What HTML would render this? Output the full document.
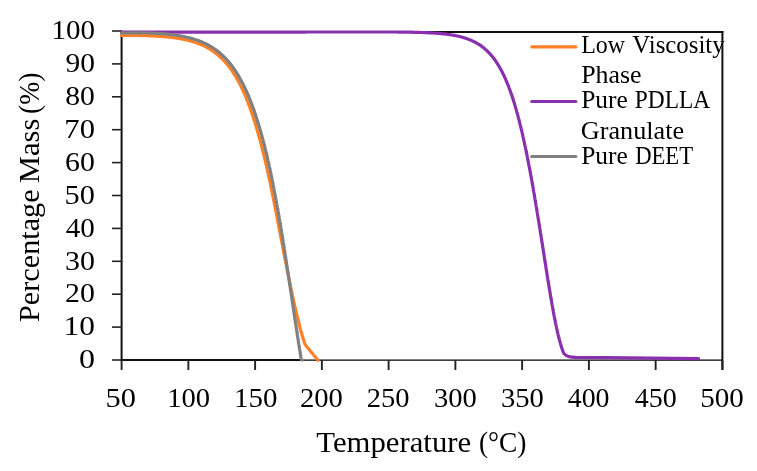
<!DOCTYPE html>
<html><head><meta charset="utf-8"><style>
html,body{margin:0;padding:0;background:#fff;}
svg{display:block;will-change:transform;}
text{font-family:"Liberation Serif",serif;fill:#000;}
</style></head><body>
<svg width="757" height="471" viewBox="0 0 757 471">
<rect width="757" height="471" fill="#fff"/>
<g fill="none" stroke="#111">
<line x1="120.6" y1="32" x2="723.4" y2="32" stroke-width="2"/>
<line x1="121.6" y1="31" x2="121.6" y2="361" stroke-width="2"/>
<line x1="722.4" y1="31" x2="722.4" y2="370" stroke-width="2"/>
<line x1="120.6" y1="360" x2="300.5" y2="360" stroke-width="2.1"/>
<line x1="300.5" y1="360.1" x2="722" y2="360.1" stroke-width="1.4" stroke="#000"/>
</g>
<g stroke="#222" stroke-width="1.6"><line x1="112" y1="360.00" x2="122" y2="360.00"/><line x1="112" y1="327.10" x2="122" y2="327.10"/><line x1="112" y1="294.20" x2="122" y2="294.20"/><line x1="112" y1="261.30" x2="122" y2="261.30"/><line x1="112" y1="228.40" x2="122" y2="228.40"/><line x1="112" y1="195.50" x2="122" y2="195.50"/><line x1="112" y1="162.60" x2="122" y2="162.60"/><line x1="112" y1="129.70" x2="122" y2="129.70"/><line x1="112" y1="96.80" x2="122" y2="96.80"/><line x1="112" y1="63.90" x2="122" y2="63.90"/><line x1="112" y1="31.00" x2="122" y2="31.00"/><line x1="121.60" y1="360" x2="121.60" y2="370" stroke-width="1.9"/><line x1="188.36" y1="360" x2="188.36" y2="370" stroke-width="1.9"/><line x1="255.11" y1="360" x2="255.11" y2="370" stroke-width="1.9"/><line x1="321.87" y1="360" x2="321.87" y2="370" stroke-width="1.9"/><line x1="388.62" y1="360" x2="388.62" y2="370" stroke-width="1.9"/><line x1="455.38" y1="360" x2="455.38" y2="370" stroke-width="1.9"/><line x1="522.13" y1="360" x2="522.13" y2="370" stroke-width="1.9"/><line x1="588.89" y1="360" x2="588.89" y2="370" stroke-width="1.9"/><line x1="655.64" y1="360" x2="655.64" y2="370" stroke-width="1.9"/><line x1="722.40" y1="360" x2="722.40" y2="370" stroke-width="1.9"/></g>
<g><text x="78.98" y="368.27" font-size="28" textLength="16.04" lengthAdjust="spacingAndGlyphs">0</text><text x="63.64" y="335.37" font-size="28" textLength="31.35" lengthAdjust="spacingAndGlyphs">10</text><text x="65.09" y="302.47" font-size="28" textLength="29.85" lengthAdjust="spacingAndGlyphs">20</text><text x="64.97" y="269.57" font-size="28" textLength="29.98" lengthAdjust="spacingAndGlyphs">30</text><text x="65.83" y="236.67" font-size="28" textLength="29.08" lengthAdjust="spacingAndGlyphs">40</text><text x="64.64" y="203.77" font-size="28" textLength="30.32" lengthAdjust="spacingAndGlyphs">50</text><text x="65.12" y="170.87" font-size="28" textLength="29.82" lengthAdjust="spacingAndGlyphs">60</text><text x="64.38" y="137.97" font-size="28" textLength="30.58" lengthAdjust="spacingAndGlyphs">70</text><text x="65.27" y="105.07" font-size="28" textLength="29.66" lengthAdjust="spacingAndGlyphs">80</text><text x="65.45" y="72.17" font-size="28" textLength="29.47" lengthAdjust="spacingAndGlyphs">90</text><text x="51.45" y="39.27" font-size="28" textLength="43.45" lengthAdjust="spacingAndGlyphs">100</text><text x="105.63" y="407.20" font-size="28" textLength="30.43" lengthAdjust="spacingAndGlyphs">50</text><text x="167.24" y="407.20" font-size="28" textLength="42.85" lengthAdjust="spacingAndGlyphs">100</text><text x="234.06" y="407.20" font-size="28" textLength="43.34" lengthAdjust="spacingAndGlyphs">150</text><text x="299.94" y="407.20" font-size="28" textLength="42.95" lengthAdjust="spacingAndGlyphs">200</text><text x="366.65" y="407.20" font-size="28" textLength="42.74" lengthAdjust="spacingAndGlyphs">250</text><text x="433.93" y="407.20" font-size="28" textLength="42.86" lengthAdjust="spacingAndGlyphs">300</text><text x="500.93" y="407.20" font-size="28" textLength="42.86" lengthAdjust="spacingAndGlyphs">350</text><text x="567.76" y="407.20" font-size="28" textLength="41.81" lengthAdjust="spacingAndGlyphs">400</text><text x="634.75" y="407.20" font-size="28" textLength="42.01" lengthAdjust="spacingAndGlyphs">450</text><text x="700.21" y="407.20" font-size="28" textLength="43.60" lengthAdjust="spacingAndGlyphs">500</text></g>
<g fill="none" stroke-width="3.2" stroke-linejoin="round" stroke-linecap="round">
<polyline points="121.6,35.4 122.1,35.4 122.6,35.4 123.1,35.4 123.6,35.4 124.2,35.4 124.7,35.4 125.2,35.4 125.7,35.4 126.2,35.4 126.7,35.4 127.2,35.4 127.7,35.4 128.2,35.4 128.8,35.4 129.3,35.4 129.8,35.4 130.3,35.4 130.8,35.4 131.3,35.4 131.8,35.4 132.3,35.4 132.8,35.4 133.4,35.4 133.9,35.4 134.4,35.4 134.9,35.4 135.4,35.4 135.9,35.5 136.4,35.5 136.9,35.5 137.5,35.5 138.0,35.5 138.5,35.5 139.0,35.5 139.5,35.5 140.0,35.5 140.5,35.5 141.0,35.5 141.5,35.6 142.1,35.6 142.6,35.6 143.1,35.6 143.6,35.6 144.1,35.6 144.6,35.6 145.1,35.6 145.6,35.7 146.1,35.7 146.7,35.7 147.2,35.7 147.7,35.7 148.2,35.7 148.7,35.8 149.2,35.8 149.7,35.8 150.2,35.8 150.7,35.8 151.3,35.9 151.8,35.9 152.3,35.9 152.8,35.9 153.3,36.0 153.8,36.0 154.3,36.0 154.8,36.0 155.3,36.1 155.9,36.1 156.4,36.1 156.9,36.2 157.4,36.2 157.9,36.2 158.4,36.2 158.9,36.3 159.4,36.3 159.9,36.4 160.5,36.4 161.0,36.4 161.5,36.5 162.0,36.5 162.5,36.5 163.0,36.6 163.5,36.6 164.0,36.7 164.5,36.7 165.0,36.8 165.6,36.8 166.1,36.8 166.6,36.9 167.1,36.9 167.6,37.0 168.1,37.0 168.6,37.1 169.1,37.1 169.6,37.2 170.1,37.3 170.6,37.3 171.1,37.4 171.7,37.4 172.2,37.5 172.7,37.6 173.2,37.6 173.7,37.7 174.2,37.8 174.7,37.8 175.2,37.9 175.7,38.0 176.2,38.0 176.7,38.1 177.2,38.2 177.7,38.3 178.2,38.4 178.8,38.4 179.3,38.5 179.8,38.6 180.3,38.7 180.8,38.8 181.3,38.9 181.8,39.0 182.3,39.1 182.8,39.2 183.3,39.3 183.8,39.4 184.3,39.5 184.8,39.6 185.3,39.7 185.8,39.8 186.3,39.9 186.8,40.0 187.3,40.1 187.8,40.3 188.3,40.4 188.8,40.5 189.3,40.6 189.8,40.8 190.3,40.9 190.8,41.0 191.2,41.2 191.7,41.3 192.2,41.5 192.7,41.6 193.2,41.8 193.7,41.9 194.2,42.1 194.7,42.2 195.2,42.4 195.7,42.5 196.1,42.7 196.6,42.9 197.1,43.1 197.6,43.2 198.1,43.4 198.5,43.6 199.0,43.8 199.5,44.0 200.0,44.2 200.4,44.3 200.9,44.5 201.4,44.7 201.9,45.0 202.3,45.2 202.8,45.4 203.3,45.6 203.7,45.8 204.2,46.0 204.6,46.3 205.1,46.5 205.6,46.7 206.0,46.9 206.5,47.2 206.9,47.4 207.4,47.7 207.8,47.9 208.3,48.2 208.7,48.4 209.1,48.7 209.6,49.0 210.0,49.2 210.5,49.5 210.9,49.8 211.3,50.0 211.8,50.3 212.2,50.6 212.6,50.9 213.0,51.2 213.4,51.5 213.9,51.8 214.3,52.1 214.7,52.4 215.1,52.7 215.5,53.0 215.9,53.3 216.3,53.6 216.7,53.9 217.1,54.3 217.5,54.6 217.9,54.9 218.3,55.3 218.7,55.6 219.1,55.9 219.4,56.3 219.8,56.6 220.2,57.0 220.6,57.3 220.9,57.7 221.3,58.0 221.7,58.4 222.0,58.7 222.4,59.1 222.8,59.5 223.1,59.8 223.5,60.2 223.8,60.6 224.2,61.0 224.5,61.3 224.9,61.7 225.2,62.1 225.5,62.5 225.9,62.9 226.2,63.2 226.5,63.6 226.9,64.0 227.2,64.4 227.5,64.8 227.8,65.2 228.2,65.6 228.5,66.0 228.8,66.4 229.1,66.8 229.4,67.2 229.7,67.7 230.0,68.1 230.3,68.5 230.6,68.9 230.9,69.3 231.2,69.7 231.5,70.1 231.8,70.6 232.1,71.0 232.4,71.4 232.7,71.8 233.0,72.3 233.2,72.7 233.5,73.1 233.8,73.6 234.1,74.0 234.3,74.4 234.6,74.8 234.9,75.3 235.1,75.7 235.4,76.2 235.7,76.6 235.9,77.0 236.2,77.5 236.5,77.9 236.7,78.4 237.0,78.8 237.2,79.3 237.5,79.7 237.7,80.1 238.0,80.6 238.2,81.0 238.5,81.5 238.7,81.9 238.9,82.4 239.2,82.9 239.4,83.3 239.7,83.8 239.9,84.2 240.1,84.7 240.4,85.1 240.6,85.6 240.8,86.0 241.0,86.5 241.3,87.0 241.5,87.4 241.7,87.9 241.9,88.3 242.1,88.8 242.4,89.3 242.6,89.7 242.8,90.2 243.0,90.7 243.2,91.1 243.4,91.6 243.6,92.1 243.9,92.5 244.1,93.0 244.3,93.5 244.5,93.9 244.7,94.4 244.9,94.9 245.1,95.3 245.3,95.8 245.5,96.3 245.7,96.8 245.9,97.2 246.1,97.7 246.3,98.2 246.5,98.6 246.7,99.1 246.9,99.6 247.0,100.1 247.2,100.5 247.4,101.0 247.6,101.5 247.8,102.0 248.0,102.5 248.2,102.9 248.3,103.4 248.5,103.9 248.7,104.4 248.9,104.8 249.1,105.3 249.3,105.8 249.4,106.3 249.6,106.8 249.8,107.2 250.0,107.7 250.1,108.2 250.3,108.7 250.5,109.2 250.7,109.6 250.8,110.1 251.0,110.6 251.2,111.1 251.3,111.6 251.5,112.1 251.7,112.5 251.8,113.0 252.0,113.5 252.2,114.0 252.3,114.5 252.5,115.0 252.7,115.5 252.8,115.9 253.0,116.4 253.1,116.9 253.3,117.4 253.5,117.9 253.6,118.4 253.8,118.9 253.9,119.3 254.1,119.8 254.2,120.3 254.4,120.8 254.6,121.3 254.7,121.8 254.9,122.3 255.0,122.8 255.2,123.2 255.3,123.7 255.5,124.2 255.6,124.7 255.8,125.2 255.9,125.7 256.1,126.2 256.2,126.7 256.4,127.2 256.5,127.7 256.6,128.1 256.8,128.6 256.9,129.1 257.1,129.6 257.2,130.1 257.4,130.6 257.5,131.1 257.7,131.6 257.8,132.1 257.9,132.6 258.1,133.1 258.2,133.6 258.4,134.0 258.5,134.5 258.6,135.0 258.8,135.5 258.9,136.0 259.0,136.5 259.2,137.0 259.3,137.5 259.4,138.0 259.6,138.5 259.7,139.0 259.9,139.5 260.0,140.0 260.1,140.5 260.2,141.0 260.4,141.4 260.5,141.9 260.6,142.4 260.8,142.9 260.9,143.4 261.0,143.9 261.2,144.4 261.3,144.9 261.4,145.4 261.6,145.9 261.7,146.4 261.8,146.9 261.9,147.4 262.1,147.9 262.2,148.4 262.3,148.9 262.4,149.4 262.6,149.9 262.7,150.4 262.8,150.9 262.9,151.4 263.1,151.9 263.2,152.3 263.3,152.8 263.4,153.3 263.5,153.8 263.7,154.3 263.8,154.8 263.9,155.3 264.0,155.8 264.2,156.3 264.3,156.8 264.4,157.3 264.5,157.8 264.6,158.3 264.8,158.8 264.9,159.3 265.0,159.8 265.1,160.3 265.2,160.8 265.3,161.3 265.5,161.8 265.6,162.3 265.7,162.8 265.8,163.3 265.9,163.8 266.0,164.3 266.2,164.8 266.3,165.3 266.4,165.8 266.5,166.3 266.6,166.8 266.7,167.3 266.8,167.8 266.9,168.3 267.1,168.8 267.2,169.3 267.3,169.8 267.4,170.3 267.5,170.8 267.6,171.3 267.7,171.8 267.8,172.3 268.0,172.8 268.1,173.3 268.2,173.8 268.3,174.3 268.4,174.8 268.5,175.3 268.6,175.8 268.7,176.3 268.8,176.8 268.9,177.3 269.0,177.8 269.2,178.3 269.3,178.8 269.4,179.3 269.5,179.8 269.6,180.3 269.7,180.8 269.8,181.3 269.9,181.8 270.0,182.3 270.1,182.8 270.2,183.3 270.3,183.8 270.4,184.3 270.5,184.8 270.6,185.3 270.7,185.8 270.9,186.3 271.0,186.8 271.1,187.3 271.2,187.8 271.3,188.3 271.4,188.8 271.5,189.3 271.6,189.8 271.7,190.3 271.8,190.8 271.9,191.3 272.0,191.8 272.1,192.3 272.2,192.8 272.3,193.3 272.4,193.8 272.5,194.3 272.6,194.8 272.7,195.3 272.8,195.8 272.9,196.3 273.0,196.8 273.1,197.3 273.2,197.8 273.3,198.3 273.4,198.8 273.5,199.3 273.6,199.8 273.7,200.3 273.8,200.8 273.9,201.3 274.0,201.8 274.1,202.3 274.2,202.8 274.3,203.3 274.4,203.8 274.5,204.3 274.6,204.8 274.7,205.3 274.8,205.8 274.9,206.3 275.0,206.8 275.1,207.3 275.2,207.8 275.3,208.4 275.4,208.9 275.5,209.4 275.6,209.9 275.7,210.4 275.8,210.9 275.9,211.4 276.0,211.9 276.1,212.4 276.2,212.9 276.3,213.4 276.4,213.9 276.5,214.4 276.6,214.9 276.7,215.4 276.8,215.9 276.9,216.4 277.0,216.9 277.1,217.4 277.2,217.9 277.3,218.4 277.4,218.9 277.5,219.4 277.6,219.9 277.7,220.4 277.7,220.9 277.8,221.4 277.9,221.9 278.0,222.4 278.1,222.9 278.2,223.4 278.3,223.9 278.4,224.4 278.5,224.9 278.6,225.4 278.7,225.9 278.8,226.4 278.9,226.9 279.0,227.4 279.1,227.9 279.2,228.4 279.3,228.9 279.4,229.5 279.5,230.0 279.6,230.5 279.7,231.0 279.8,231.5 279.9,232.0 280.0,232.5 280.1,233.0 280.2,233.5 280.2,234.0 280.3,234.5 280.4,235.0 280.5,235.5 280.6,236.0 280.7,236.5 280.8,237.0 280.9,237.5 281.0,238.0 281.1,238.5 281.2,239.0 281.3,239.5 281.4,240.0 281.5,240.5 281.6,241.0 281.7,241.5 281.8,242.0 281.9,242.5 282.0,243.0 282.1,243.5 282.2,244.0 282.3,244.5 282.4,245.0 282.5,245.5 282.6,246.0 282.7,246.5 282.7,247.0 282.8,247.5 282.9,248.0 283.0,248.5 283.1,249.1 283.2,249.6 283.3,250.1 283.4,250.6 283.5,251.1 283.6,251.6 283.7,252.1 283.8,252.6 283.9,253.1 284.0,253.6 284.1,254.1 284.2,254.6 284.3,255.1 284.4,255.6 284.5,256.1 284.6,256.6 284.7,257.1 284.8,257.6 284.9,258.1 285.0,258.6 285.1,259.1 285.2,259.6 285.3,260.1 285.4,260.6 285.5,261.1 285.6,261.6 285.7,262.1 285.8,262.6 285.9,263.1 286.0,263.6 286.1,264.1 286.2,264.6 286.3,265.1 286.4,265.6 286.5,266.1 286.6,266.6 286.7,267.1 286.8,267.6 286.9,268.1 286.9,268.6 287.0,269.1 287.1,269.6 287.2,270.1 287.3,270.6 287.4,271.1 287.5,271.6 287.6,272.1 287.8,272.7 287.9,273.2 288.0,273.7 288.1,274.2 288.2,274.7 288.3,275.2 288.4,275.7 288.5,276.2 288.6,276.7 288.7,277.2 288.8,277.7 288.9,278.2 289.0,278.7 289.1,279.2 289.2,279.7 289.3,280.2 289.4,280.7 289.5,281.2 289.6,281.7 289.7,282.2 289.8,282.7 289.9,283.2 290.0,283.7 290.1,284.2 290.2,284.7 290.3,285.2 290.4,285.7 290.5,286.2 290.6,286.7 290.7,287.2 290.8,287.7 290.9,288.2 291.0,288.7 291.1,289.2 291.2,289.7 291.3,290.2 291.5,290.7 291.6,291.2 291.7,291.7 291.8,292.2 291.9,292.7 292.0,293.2 292.1,293.7 292.2,294.2 292.3,294.7 292.4,295.2 292.5,295.7 292.6,296.2 292.7,296.7 292.8,297.2 292.9,297.7 293.1,298.2 293.2,298.7 293.3,299.2 293.4,299.7 293.5,300.2 293.6,300.7 293.7,301.2 293.8,301.7 293.9,302.2 294.0,302.7 294.1,303.2 294.3,303.7 294.4,304.2 294.5,304.7 294.6,305.2 294.7,305.7 294.8,306.2 294.9,306.7 295.0,307.2 295.2,307.7 295.3,308.2 295.4,308.7 295.5,309.2 295.6,309.7 295.7,310.2 295.8,310.7 296.0,311.2 296.1,311.7 296.2,312.2 296.3,312.7 296.4,313.2 296.5,313.7 296.7,314.2 296.8,314.7 296.9,315.2 297.0,315.7 297.1,316.2 297.2,316.7 297.4,317.2 297.5,317.7 297.6,318.2 297.7,318.6 297.8,319.1 298.0,319.6 298.1,320.1 298.2,320.6 298.3,321.1 298.5,321.6 298.6,322.1 298.7,322.6 298.8,323.1 299.0,323.6 299.1,324.1 299.2,324.6 299.3,325.1 299.5,325.6 299.6,326.1 299.7,326.6 299.9,327.1 300.0,327.6 300.1,328.1 300.2,328.6 300.4,329.1 300.5,329.6 300.6,330.0 300.8,330.5 300.9,331.0 301.1,331.5 301.2,332.0 301.3,332.5 301.5,333.0 301.6,333.5 301.7,334.0 301.9,334.5 302.0,335.0 302.2,335.5 302.3,336.0 302.5,336.4 302.6,336.9 302.7,337.4 302.9,337.9 303.0,338.4 303.2,338.9 303.3,339.4 303.5,339.9 303.7,340.4 303.8,340.8 304.0,341.3 304.1,341.8 304.9,344.0 306.4,346.2 318.0,360.2" stroke="#FF8027"/>
<polyline points="121.6,32.0 122.5,32.0 123.3,32.0 124.2,32.0 125.1,32.0 126.0,32.0 126.8,32.0 127.7,32.0 128.6,32.0 129.4,32.0 130.3,32.0 131.2,32.0 132.1,32.0 132.9,32.0 133.8,32.0 134.7,32.0 135.6,32.0 136.4,32.0 137.3,32.0 138.2,32.0 139.0,32.0 139.9,32.0 140.8,32.0 141.7,32.0 142.5,32.1 143.4,32.1 144.3,32.1 145.1,32.1 146.0,32.1 146.9,32.1 147.8,32.1 148.6,32.1 149.5,32.1 150.4,32.1 151.2,32.1 152.1,32.1 153.0,32.1 153.9,32.1 154.7,32.1 155.6,32.1 156.5,32.1 157.4,32.1 158.2,32.1 159.1,32.1 160.0,32.1 160.8,32.1 161.7,32.1 162.6,32.1 163.5,32.1 164.3,32.1 165.2,32.1 166.1,32.1 166.9,32.1 167.8,32.1 168.7,32.1 169.6,32.1 170.4,32.1 171.3,32.1 172.2,32.1 173.0,32.1 173.9,32.1 174.8,32.1 175.7,32.1 176.5,32.1 177.4,32.1 178.3,32.1 179.2,32.1 180.0,32.1 180.9,32.1 181.8,32.1 182.6,32.1 183.5,32.1 184.4,32.1 185.3,32.1 186.1,32.1 187.0,32.1 187.9,32.2 188.7,32.2 189.6,32.2 190.5,32.2 191.4,32.2 192.2,32.2 193.1,32.2 194.0,32.2 194.8,32.2 195.7,32.2 196.6,32.2 197.5,32.2 198.3,32.2 199.2,32.2 200.1,32.2 201.0,32.2 201.8,32.2 202.7,32.2 203.6,32.2 204.4,32.2 205.3,32.2 206.2,32.2 207.1,32.2 207.9,32.2 208.8,32.2 209.7,32.2 210.5,32.2 211.4,32.2 212.3,32.2 213.2,32.2 214.0,32.2 214.9,32.2 215.8,32.2 216.7,32.2 217.5,32.2 218.4,32.2 219.3,32.2 220.1,32.2 221.0,32.2 221.9,32.2 222.8,32.2 223.6,32.2 224.5,32.2 225.4,32.2 226.2,32.2 227.1,32.2 228.0,32.2 228.9,32.2 229.7,32.2 230.6,32.2 231.5,32.2 232.3,32.2 233.2,32.2 234.1,32.2 235.0,32.2 235.8,32.2 236.7,32.2 237.6,32.2 238.5,32.2 239.3,32.2 240.2,32.2 241.1,32.2 241.9,32.2 242.8,32.2 243.7,32.1 244.6,32.1 245.4,32.1 246.3,32.1 247.2,32.1 248.0,32.1 248.9,32.1 249.8,32.1 250.7,32.1 251.5,32.1 252.4,32.1 253.3,32.1 254.1,32.1 255.0,32.1 255.9,32.1 256.8,32.1 257.6,32.1 258.5,32.1 259.4,32.1 260.3,32.1 261.1,32.1 262.0,32.1 262.9,32.1 263.7,32.1 264.6,32.1 265.5,32.1 266.4,32.1 267.2,32.1 268.1,32.1 269.0,32.1 269.8,32.1 270.7,32.1 271.6,32.1 272.5,32.1 273.3,32.1 274.2,32.1 275.1,32.1 275.9,32.1 276.8,32.1 277.7,32.1 278.6,32.1 279.4,32.1 280.3,32.1 281.2,32.1 282.1,32.1 282.9,32.1 283.8,32.1 284.7,32.1 285.5,32.1 286.4,32.1 287.3,32.1 288.2,32.1 289.0,32.1 289.9,32.1 290.8,32.1 291.6,32.1 292.5,32.1 293.4,32.1 294.3,32.1 295.1,32.1 296.0,32.1 296.9,32.1 297.7,32.1 298.6,32.1 299.5,32.1 300.4,32.1 301.2,32.1 302.1,32.1 303.0,32.1 303.9,32.1 304.7,32.1 305.6,32.1 306.5,32.0 307.3,32.0 308.2,32.0 309.1,32.0 310.0,32.0 310.8,32.0 311.7,32.0 312.6,32.0 313.4,32.0 314.3,32.0 315.2,32.0 316.1,32.0 316.9,32.0 317.8,32.0 318.7,32.0 319.5,32.0 320.4,32.0 321.3,32.0 322.2,32.0 323.0,32.0 323.9,32.0 324.8,32.0 325.7,32.0 326.5,32.0 327.4,32.0 328.3,32.0 329.1,32.0 330.0,32.0 330.9,32.0 331.8,32.0 332.6,32.0 333.5,32.0 334.4,32.0 335.2,32.0 336.1,32.0 337.0,32.0 337.9,32.0 338.7,32.0 339.6,32.0 340.5,32.0 341.3,32.0 342.2,32.0 343.1,32.0 344.0,32.0 344.8,32.0 345.7,32.0 346.6,32.0 347.5,32.0 348.3,32.0 349.2,32.0 350.1,32.0 350.9,32.0 351.8,32.0 352.7,32.0 353.6,32.0 354.4,32.0 355.3,32.0 356.2,32.0 357.0,32.0 357.9,32.0 358.8,32.0 359.7,32.0 360.5,32.0 361.4,32.0 362.3,32.0 363.2,32.0 364.0,32.0 364.9,32.0 365.8,32.0 366.6,32.0 367.5,32.0 368.4,32.0 369.3,32.0 370.1,32.0 371.0,32.0 371.9,32.0 372.7,32.0 373.6,32.0 374.5,32.0 375.4,32.0 376.2,32.0 377.1,32.0 378.0,32.0 378.8,32.0 379.7,32.0 380.6,32.0 381.5,32.0 382.3,32.0 383.2,32.0 384.1,32.0 385.0,32.0 385.8,32.0 386.7,32.0 387.6,32.0 388.4,32.0 389.3,32.0 390.2,32.0 391.1,32.0 391.9,32.0 392.8,32.0 393.7,32.0 394.5,32.0 395.4,32.0 396.3,32.0 397.2,32.0 398.0,32.1 398.9,32.1 399.8,32.1 400.6,32.1 401.5,32.1 402.4,32.1 403.3,32.1 404.1,32.1 405.0,32.1 405.9,32.1 406.8,32.2 407.6,32.2 408.5,32.2 409.4,32.2 410.2,32.2 411.1,32.2 412.0,32.2 412.9,32.3 413.7,32.3 414.6,32.3 415.5,32.3 416.3,32.3 417.2,32.4 418.1,32.4 419.0,32.4 419.8,32.4 420.7,32.5 421.6,32.5 422.4,32.5 423.3,32.6 424.2,32.6 425.1,32.6 425.9,32.7 426.8,32.7 427.7,32.7 428.5,32.8 429.4,32.8 430.3,32.9 431.2,32.9 432.0,33.0 432.9,33.0 433.8,33.1 434.6,33.1 435.5,33.2 436.4,33.2 437.2,33.3 438.1,33.4 439.0,33.4 439.9,33.5 440.7,33.6 441.6,33.7 442.5,33.8 443.3,33.9 444.2,33.9 445.1,34.0 445.9,34.1 446.8,34.2 447.7,34.4 448.5,34.5 449.4,34.6 450.3,34.7 451.1,34.9 452.0,35.0 452.8,35.1 453.7,35.3 454.6,35.4 455.4,35.6 456.3,35.8 457.1,36.0 458.0,36.1 458.8,36.3 459.7,36.5 460.5,36.7 461.4,37.0 462.2,37.2 463.0,37.4 463.9,37.7 464.7,37.9 465.6,38.2 466.4,38.5 467.2,38.8 468.0,39.1 468.8,39.4 469.7,39.7 470.5,40.0 471.3,40.4 472.1,40.7 472.9,41.1 473.6,41.5 474.4,41.9 475.2,42.3 476.0,42.7 476.7,43.1 477.5,43.5 478.2,44.0 479.0,44.5 479.7,44.9 480.4,45.4 481.1,45.9 481.8,46.4 482.5,47.0 483.2,47.5 483.9,48.0 484.6,48.6 485.2,49.2 485.9,49.8 486.5,50.3 487.2,50.9 487.8,51.6 488.4,52.2 489.0,52.8 489.6,53.4 490.2,54.1 490.8,54.7 491.3,55.4 491.9,56.1 492.5,56.7 493.0,57.4 493.5,58.1 494.1,58.8 494.6,59.5 495.1,60.2 495.6,60.9 496.1,61.6 496.6,62.4 497.0,63.1 497.5,63.8 498.0,64.6 498.4,65.3 498.9,66.1 499.3,66.8 499.8,67.6 500.2,68.3 500.6,69.1 501.0,69.9 501.5,70.6 501.9,71.4 502.3,72.2 502.6,73.0 503.0,73.7 503.4,74.5 503.8,75.3 504.2,76.1 504.5,76.9 504.9,77.7 505.3,78.5 505.6,79.3 506.0,80.1 506.3,80.9 506.6,81.7 507.0,82.5 507.3,83.3 507.6,84.1 508.0,84.9 508.3,85.7 508.6,86.5 508.9,87.3 509.2,88.2 509.5,89.0 509.8,89.8 510.1,90.6 510.4,91.4 510.7,92.2 511.0,93.1 511.3,93.9 511.6,94.7 511.9,95.5 512.1,96.4 512.4,97.2 512.7,98.0 512.9,98.9 513.2,99.7 513.5,100.5 513.7,101.3 514.0,102.2 514.3,103.0 514.5,103.8 514.8,104.7 515.0,105.5 515.3,106.4 515.5,107.2 515.7,108.0 516.0,108.9 516.2,109.7 516.5,110.5 516.7,111.4 516.9,112.2 517.2,113.1 517.4,113.9 517.6,114.7 517.9,115.6 518.1,116.4 518.3,117.3 518.5,118.1 518.7,119.0 519.0,119.8 519.2,120.6 519.4,121.5 519.6,122.3 519.8,123.2 520.0,124.0 520.2,124.9 520.4,125.7 520.7,126.6 520.9,127.4 521.1,128.3 521.3,129.1 521.5,130.0 521.7,130.8 521.9,131.7 522.1,132.5 522.3,133.4 522.5,134.2 522.7,135.1 522.8,135.9 523.0,136.8 523.2,137.6 523.4,138.5 523.6,139.3 523.8,140.2 524.0,141.0 524.2,141.9 524.4,142.7 524.5,143.6 524.7,144.4 524.9,145.3 525.1,146.1 525.3,147.0 525.4,147.8 525.6,148.7 525.8,149.5 526.0,150.4 526.2,151.3 526.3,152.1 526.5,153.0 526.7,153.8 526.9,154.7 527.0,155.5 527.2,156.4 527.4,157.2 527.5,158.1 527.7,158.9 527.9,159.8 528.0,160.7 528.2,161.5 528.4,162.4 528.5,163.2 528.7,164.1 528.9,164.9 529.0,165.8 529.2,166.6 529.4,167.5 529.5,168.4 529.7,169.2 529.9,170.1 530.0,170.9 530.2,171.8 530.3,172.6 530.5,173.5 530.6,174.4 530.8,175.2 531.0,176.1 531.1,176.9 531.3,177.8 531.4,178.7 531.6,179.5 531.7,180.4 531.9,181.2 532.0,182.1 532.2,182.9 532.4,183.8 532.5,184.7 532.7,185.5 532.8,186.4 533.0,187.2 533.1,188.1 533.3,189.0 533.4,189.8 533.6,190.7 533.7,191.5 533.9,192.4 534.0,193.3 534.2,194.1 534.3,195.0 534.5,195.8 534.6,196.7 534.7,197.5 534.9,198.4 535.0,199.3 535.2,200.1 535.3,201.0 535.5,201.8 535.6,202.7 535.8,203.6 535.9,204.4 536.0,205.3 536.2,206.1 536.3,207.0 536.5,207.9 536.6,208.7 536.8,209.6 536.9,210.5 537.0,211.3 537.2,212.2 537.3,213.0 537.5,213.9 537.6,214.8 537.8,215.6 537.9,216.5 538.0,217.3 538.2,218.2 538.3,219.1 538.4,219.9 538.6,220.8 538.7,221.6 538.9,222.5 539.0,223.4 539.1,224.2 539.3,225.1 539.4,225.9 539.6,226.8 539.7,227.7 539.8,228.5 540.0,229.4 540.1,230.3 540.2,231.1 540.4,232.0 540.5,232.8 540.7,233.7 540.8,234.6 540.9,235.4 541.1,236.3 541.2,237.1 541.3,238.0 541.5,238.9 541.6,239.7 541.7,240.6 541.9,241.4 542.0,242.3 542.1,243.2 542.3,244.0 542.4,244.9 542.6,245.8 542.7,246.6 542.8,247.5 543.0,248.3 543.1,249.2 543.2,250.1 543.4,250.9 543.5,251.8 543.6,252.6 543.8,253.5 543.9,254.4 544.0,255.2 544.2,256.1 544.3,257.0 544.4,257.8 544.6,258.7 544.7,259.5 544.8,260.4 545.0,261.3 545.1,262.1 545.3,263.0 545.4,263.8 545.5,264.7 545.7,265.6 545.8,266.4 545.9,267.3 546.1,268.2 546.2,269.0 546.3,269.9 546.5,270.7 546.6,271.6 546.8,272.5 546.9,273.3 547.0,274.2 547.2,275.0 547.3,275.9 547.4,276.8 547.6,277.6 547.7,278.5 547.8,279.3 548.0,280.2 548.1,281.1 548.3,281.9 548.4,282.8 548.5,283.7 548.7,284.5 548.8,285.4 549.0,286.2 549.1,287.1 549.2,288.0 549.4,288.8 549.5,289.7 549.7,290.5 549.8,291.4 550.0,292.3 550.1,293.1 550.2,294.0 550.4,294.8 550.5,295.7 550.7,296.6 550.8,297.4 551.0,298.3 551.1,299.1 551.3,300.0 551.4,300.9 551.6,301.7 551.7,302.6 551.9,303.4 552.0,304.3 552.2,305.1 552.3,306.0 552.5,306.9 552.6,307.7 552.8,308.6 552.9,309.4 553.1,310.3 553.3,311.2 553.4,312.0 553.6,312.9 553.7,313.7 553.9,314.6 554.1,315.4 554.2,316.3 554.4,317.1 554.6,318.0 554.7,318.9 554.9,319.7 555.1,320.6 555.2,321.4 555.4,322.3 555.6,323.1 555.8,324.0 555.9,324.8 556.1,325.7 556.3,326.6 556.5,327.4 556.7,328.3 556.9,329.1 557.0,330.0 557.2,330.8 557.4,331.7 557.6,332.5 557.8,333.4 558.0,334.2 558.2,335.1 558.4,335.9 558.6,336.8 558.8,337.6 559.1,338.4 559.3,339.3 559.5,340.1 559.7,341.0 560.0,341.8 560.2,342.7 560.4,343.5 560.7,344.3 560.9,345.2 561.2,346.0 561.4,346.8 561.7,347.7 562.0,348.5 562.2,349.3 562.5,350.2 562.8,351.0 563.1,351.8 563.4,352.6 563.9,353.4 564.6,354.1 565.3,354.7 566.1,355.3 567.0,355.8 568.0,356.2 569.1,356.6 570.3,356.8 571.6,357.1 573.0,357.2 574.4,357.3 576.0,357.4 605.0,357.7 698.5,358.6" stroke="#8A30AE"/>
<polyline points="121.6,33.1 122.1,33.1 122.7,33.1 123.2,33.1 123.8,33.0 124.3,33.0 124.9,33.0 125.4,33.0 125.9,33.0 126.5,33.0 127.0,33.0 127.6,33.0 128.1,32.9 128.7,32.9 129.2,32.9 129.8,32.9 130.3,32.9 130.9,32.9 131.4,32.9 132.0,32.9 132.5,32.9 133.0,32.9 133.6,32.9 134.1,32.9 134.7,32.9 135.2,32.9 135.8,32.9 136.3,32.9 136.9,32.9 137.4,32.9 138.0,32.9 138.5,32.9 139.1,32.9 139.6,32.9 140.1,32.9 140.7,32.9 141.2,32.9 141.8,32.9 142.3,32.9 142.9,32.9 143.4,32.9 144.0,32.9 144.5,32.9 145.1,33.0 145.6,33.0 146.1,33.0 146.7,33.0 147.2,33.0 147.8,33.0 148.3,33.0 148.9,33.1 149.4,33.1 150.0,33.1 150.5,33.1 151.1,33.1 151.6,33.1 152.1,33.2 152.7,33.2 153.2,33.2 153.8,33.2 154.3,33.3 154.9,33.3 155.4,33.3 156.0,33.3 156.5,33.4 157.1,33.4 157.6,33.4 158.1,33.5 158.7,33.5 159.2,33.5 159.8,33.6 160.3,33.6 160.9,33.6 161.4,33.7 162.0,33.7 162.5,33.8 163.0,33.8 163.6,33.8 164.1,33.9 164.7,33.9 165.2,34.0 165.8,34.0 166.3,34.1 166.9,34.1 167.4,34.2 167.9,34.2 168.5,34.3 169.0,34.4 169.6,34.4 170.1,34.5 170.7,34.5 171.2,34.6 171.7,34.7 172.3,34.7 172.8,34.8 173.4,34.9 173.9,34.9 174.5,35.0 175.0,35.1 175.5,35.2 176.1,35.2 176.6,35.3 177.2,35.4 177.7,35.5 178.2,35.6 178.8,35.7 179.3,35.8 179.9,35.8 180.4,35.9 180.9,36.0 181.5,36.1 182.0,36.2 182.5,36.3 183.1,36.4 183.6,36.5 184.2,36.7 184.7,36.8 185.2,36.9 185.8,37.0 186.3,37.1 186.8,37.2 187.4,37.4 187.9,37.5 188.4,37.6 188.9,37.8 189.5,37.9 190.0,38.0 190.5,38.2 191.1,38.3 191.6,38.5 192.1,38.6 192.6,38.8 193.2,38.9 193.7,39.1 194.2,39.2 194.7,39.4 195.3,39.6 195.8,39.7 196.3,39.9 196.8,40.1 197.3,40.3 197.8,40.4 198.4,40.6 198.9,40.8 199.4,41.0 199.9,41.2 200.4,41.4 200.9,41.6 201.4,41.8 201.9,42.0 202.4,42.3 202.9,42.5 203.4,42.7 203.9,42.9 204.4,43.1 204.9,43.4 205.4,43.6 205.9,43.9 206.4,44.1 206.9,44.3 207.4,44.6 207.8,44.9 208.3,45.1 208.8,45.4 209.3,45.6 209.7,45.9 210.2,46.2 210.7,46.5 211.2,46.7 211.6,47.0 212.1,47.3 212.6,47.6 213.0,47.9 213.5,48.2 213.9,48.5 214.4,48.8 214.8,49.1 215.3,49.4 215.7,49.8 216.2,50.1 216.6,50.4 217.0,50.7 217.5,51.1 217.9,51.4 218.3,51.7 218.7,52.1 219.2,52.4 219.6,52.8 220.0,53.1 220.4,53.5 220.8,53.9 221.2,54.2 221.6,54.6 222.0,55.0 222.4,55.3 222.8,55.7 223.2,56.1 223.6,56.5 224.0,56.8 224.4,57.2 224.8,57.6 225.2,58.0 225.5,58.4 225.9,58.8 226.3,59.2 226.7,59.6 227.0,60.0 227.4,60.4 227.8,60.8 228.1,61.2 228.5,61.6 228.8,62.1 229.2,62.5 229.5,62.9 229.9,63.3 230.2,63.8 230.5,64.2 230.9,64.6 231.2,65.0 231.5,65.5 231.9,65.9 232.2,66.3 232.5,66.8 232.8,67.2 233.2,67.7 233.5,68.1 233.8,68.6 234.1,69.0 234.4,69.5 234.7,69.9 235.0,70.4 235.3,70.8 235.6,71.3 235.9,71.7 236.2,72.2 236.5,72.6 236.8,73.1 237.1,73.6 237.4,74.0 237.7,74.5 238.0,75.0 238.2,75.4 238.5,75.9 238.8,76.4 239.1,76.8 239.3,77.3 239.6,77.8 239.9,78.3 240.1,78.7 240.4,79.2 240.7,79.7 240.9,80.2 241.2,80.7 241.5,81.1 241.7,81.6 242.0,82.1 242.2,82.6 242.5,83.1 242.7,83.6 243.0,84.0 243.2,84.5 243.5,85.0 243.7,85.5 243.9,86.0 244.2,86.5 244.4,87.0 244.7,87.5 244.9,88.0 245.1,88.5 245.4,89.0 245.6,89.4 245.8,89.9 246.0,90.4 246.3,90.9 246.5,91.4 246.7,91.9 246.9,92.4 247.2,92.9 247.4,93.4 247.6,93.9 247.8,94.4 248.0,94.9 248.2,95.4 248.4,95.9 248.7,96.4 248.9,97.0 249.1,97.5 249.3,98.0 249.5,98.5 249.7,99.0 249.9,99.5 250.1,100.0 250.3,100.5 250.5,101.0 250.7,101.5 250.9,102.0 251.1,102.5 251.3,103.0 251.5,103.5 251.7,104.1 251.9,104.6 252.1,105.1 252.2,105.6 252.4,106.1 252.6,106.6 252.8,107.1 253.0,107.6 253.2,108.2 253.4,108.7 253.6,109.2 253.7,109.7 253.9,110.2 254.1,110.7 254.3,111.2 254.5,111.8 254.6,112.3 254.8,112.8 255.0,113.3 255.2,113.8 255.3,114.3 255.5,114.9 255.7,115.4 255.9,115.9 256.0,116.4 256.2,116.9 256.4,117.5 256.5,118.0 256.7,118.5 256.9,119.0 257.0,119.5 257.2,120.1 257.4,120.6 257.5,121.1 257.7,121.6 257.9,122.1 258.0,122.7 258.2,123.2 258.3,123.7 258.5,124.2 258.7,124.8 258.8,125.3 259.0,125.8 259.1,126.3 259.3,126.8 259.4,127.4 259.6,127.9 259.8,128.4 259.9,128.9 260.1,129.5 260.2,130.0 260.4,130.5 260.5,131.0 260.7,131.6 260.8,132.1 261.0,132.6 261.1,133.1 261.3,133.7 261.4,134.2 261.5,134.7 261.7,135.2 261.8,135.8 262.0,136.3 262.1,136.8 262.3,137.3 262.4,137.9 262.6,138.4 262.7,138.9 262.8,139.5 263.0,140.0 263.1,140.5 263.3,141.0 263.4,141.6 263.5,142.1 263.7,142.6 263.8,143.2 264.0,143.7 264.1,144.2 264.2,144.7 264.4,145.3 264.5,145.8 264.6,146.3 264.8,146.9 264.9,147.4 265.0,147.9 265.2,148.4 265.3,149.0 265.4,149.5 265.6,150.0 265.7,150.6 265.8,151.1 265.9,151.6 266.1,152.2 266.2,152.7 266.3,153.2 266.5,153.8 266.6,154.3 266.7,154.8 266.8,155.3 267.0,155.9 267.1,156.4 267.2,156.9 267.3,157.5 267.5,158.0 267.6,158.5 267.7,159.1 267.8,159.6 268.0,160.1 268.1,160.7 268.2,161.2 268.3,161.7 268.4,162.3 268.6,162.8 268.7,163.3 268.8,163.9 268.9,164.4 269.0,164.9 269.2,165.5 269.3,166.0 269.4,166.5 269.5,167.1 269.6,167.6 269.7,168.1 269.9,168.7 270.0,169.2 270.1,169.7 270.2,170.3 270.3,170.8 270.4,171.3 270.5,171.9 270.7,172.4 270.8,172.9 270.9,173.5 271.0,174.0 271.1,174.5 271.2,175.1 271.3,175.6 271.4,176.1 271.6,176.7 271.7,177.2 271.8,177.7 271.9,178.3 272.0,178.8 272.1,179.3 272.2,179.9 272.3,180.4 272.4,181.0 272.5,181.5 272.6,182.0 272.8,182.6 272.9,183.1 273.0,183.6 273.1,184.2 273.2,184.7 273.3,185.2 273.4,185.8 273.5,186.3 273.6,186.8 273.7,187.4 273.8,187.9 273.9,188.5 274.0,189.0 274.1,189.5 274.2,190.1 274.3,190.6 274.4,191.1 274.5,191.7 274.6,192.2 274.7,192.7 274.8,193.3 274.9,193.8 275.0,194.3 275.1,194.9 275.2,195.4 275.3,196.0 275.4,196.5 275.5,197.0 275.6,197.6 275.7,198.1 275.8,198.6 275.9,199.2 276.0,199.7 276.1,200.3 276.2,200.8 276.3,201.3 276.4,201.9 276.5,202.4 276.6,202.9 276.7,203.5 276.8,204.0 276.9,204.6 277.0,205.1 277.1,205.6 277.2,206.2 277.3,206.7 277.4,207.2 277.5,207.8 277.6,208.3 277.7,208.9 277.8,209.4 277.9,209.9 278.0,210.5 278.1,211.0 278.2,211.5 278.3,212.1 278.4,212.6 278.5,213.2 278.5,213.7 278.6,214.2 278.7,214.8 278.8,215.3 278.9,215.8 279.0,216.4 279.1,216.9 279.2,217.5 279.3,218.0 279.4,218.5 279.5,219.1 279.6,219.6 279.7,220.1 279.7,220.7 279.8,221.2 279.9,221.8 280.0,222.3 280.1,222.8 280.2,223.4 280.3,223.9 280.4,224.5 280.5,225.0 280.6,225.5 280.7,226.1 280.7,226.6 280.8,227.1 280.9,227.7 281.0,228.2 281.1,228.8 281.2,229.3 281.3,229.8 281.4,230.4 281.5,230.9 281.5,231.5 281.6,232.0 281.7,232.5 281.8,233.1 281.9,233.6 282.0,234.2 282.1,234.7 282.2,235.2 282.2,235.8 282.3,236.3 282.4,236.8 282.5,237.4 282.6,237.9 282.7,238.5 282.8,239.0 282.9,239.5 282.9,240.1 283.0,240.6 283.1,241.2 283.2,241.7 283.3,242.2 283.4,242.8 283.5,243.3 283.5,243.9 283.6,244.4 283.7,244.9 283.8,245.5 283.9,246.0 284.0,246.5 284.1,247.1 284.1,247.6 284.2,248.2 284.3,248.7 284.4,249.2 284.5,249.8 284.6,250.3 284.6,250.9 284.7,251.4 284.8,251.9 284.9,252.5 285.0,253.0 285.1,253.6 285.2,254.1 285.2,254.6 285.3,255.2 285.4,255.7 285.5,256.3 285.6,256.8 285.7,257.3 285.7,257.9 285.8,258.4 285.9,259.0 286.0,259.5 286.1,260.0 286.2,260.6 286.2,261.1 286.3,261.7 286.4,262.2 286.5,262.7 286.6,263.3 286.6,263.8 286.7,264.4 286.8,264.9 286.9,265.4 287.0,266.0 287.1,266.5 287.1,267.1 287.2,267.6 287.3,268.1 287.4,268.7 287.5,269.2 287.6,269.7 287.6,270.3 287.7,270.8 287.8,271.4 287.9,271.9 288.0,272.4 288.0,273.0 288.1,273.5 288.2,274.1 288.3,274.6 288.4,275.1 288.4,275.7 288.5,276.2 288.6,276.8 288.7,277.3 288.8,277.8 288.9,278.4 288.9,278.9 289.0,279.5 289.1,280.0 289.2,280.5 289.3,281.1 289.3,281.6 289.4,282.2 289.5,282.7 289.6,283.2 289.7,283.8 289.7,284.3 289.8,284.9 289.9,285.4 290.0,285.9 290.1,286.5 290.2,287.0 290.2,287.6 290.3,288.1 290.4,288.6 290.5,289.2 290.6,289.7 290.6,290.3 290.7,290.8 290.8,291.3 290.9,291.9 291.0,292.4 291.0,293.0 291.1,293.5 291.2,294.0 291.3,294.6 291.4,295.1 291.4,295.7 291.5,296.2 291.6,296.7 291.7,297.3 291.8,297.8 291.8,298.4 291.9,298.9 292.0,299.4 292.1,300.0 292.2,300.5 292.3,301.1 292.3,301.6 292.4,302.1 292.5,302.7 292.6,303.2 292.7,303.8 292.7,304.3 292.8,304.8 292.9,305.4 293.0,305.9 293.1,306.5 293.1,307.0 293.2,307.5 293.3,308.1 293.4,308.6 293.5,309.2 293.5,309.7 293.6,310.2 293.7,310.8 293.8,311.3 293.9,311.9 294.0,312.4 294.0,312.9 294.1,313.5 294.2,314.0 294.3,314.6 294.4,315.1 294.4,315.6 294.5,316.2 294.6,316.7 294.7,317.3 294.8,317.8 294.8,318.3 294.9,318.9 295.0,319.4 295.1,320.0 295.2,320.5 295.3,321.0 295.3,321.6 295.4,322.1 295.5,322.7 295.6,323.2 295.7,323.7 295.8,324.3 295.8,324.8 295.9,325.4 296.0,325.9 296.1,326.4 296.2,327.0 296.2,327.5 296.3,328.1 296.4,328.6 296.5,329.1 296.6,329.7 296.7,330.2 296.7,330.8 296.8,331.3 296.9,331.8 297.0,332.4 297.1,332.9 297.2,333.5 297.2,334.0 297.3,334.5 297.4,335.1 297.5,335.6 297.6,336.1 297.7,336.7 297.7,337.2 297.8,337.8 297.9,338.3 298.0,338.8 298.1,339.4 298.2,339.9 298.2,340.5 298.3,341.0 298.4,341.5 298.5,342.1 298.6,342.6 298.7,343.2 298.8,343.7 298.8,344.2 298.9,344.8 299.0,345.3 299.1,345.9 299.2,346.4 299.3,346.9 299.4,347.5 299.4,348.0 299.5,348.6 299.6,349.1 299.7,349.6 299.8,350.2 299.9,350.7 300.0,351.2 300.0,351.8 300.1,352.3 300.2,352.9 300.3,353.4 300.4,353.9 300.5,354.5 300.6,355.0 300.7,355.6 300.7,356.1 300.8,356.6 300.9,357.2 301.0,357.7 301.1,358.3 301.2,358.8 301.3,359.3 302.2,360.0" stroke="#808080"/>
</g>
<g stroke-width="3.2" stroke-linecap="round">
<line x1="531.8" y1="46.9" x2="575.8" y2="46.9" stroke="#FF8027"/>
<line x1="531.8" y1="101.5" x2="575.8" y2="101.5" stroke="#8A30AE"/>
<line x1="531.8" y1="156.5" x2="575.8" y2="156.5" stroke="#808080"/>
</g>
<g><text x="581.21" y="52.5" font-size="25" textLength="43.90" lengthAdjust="spacingAndGlyphs">Low</text><text x="632.33" y="52.5" font-size="25" textLength="92.37" lengthAdjust="spacingAndGlyphs">Viscosity</text><text x="581.15" y="83.0" font-size="25" textLength="60.44" lengthAdjust="spacingAndGlyphs">Phase</text><text x="581.17" y="107.7" font-size="25" textLength="46.61" lengthAdjust="spacingAndGlyphs">Pure</text><text x="634.73" y="107.7" font-size="25" textLength="75.45" lengthAdjust="spacingAndGlyphs">PDLLA</text><text x="580.83" y="138.5" font-size="25" textLength="103.28" lengthAdjust="spacingAndGlyphs">Granulate</text><text x="581.17" y="163.6" font-size="25" textLength="46.61" lengthAdjust="spacingAndGlyphs">Pure</text><text x="635.15" y="163.6" font-size="25" textLength="57.93" lengthAdjust="spacingAndGlyphs">DEET</text></g>
<text x="316.35" y="451.7" font-size="29.3" textLength="154.80" lengthAdjust="spacingAndGlyphs">Temperature</text><text x="478.90" y="451.7" font-size="29.3" textLength="47.51" lengthAdjust="spacingAndGlyphs">(°C)</text>
<g transform="translate(39.0,321.2) rotate(-90)"><text x="-0.87" y="0" font-size="29.3" textLength="132.72" lengthAdjust="spacingAndGlyphs">Percentage</text><text x="138.02" y="0" font-size="29.3" textLength="64.59" lengthAdjust="spacingAndGlyphs">Mass</text><text x="207.29" y="0" font-size="29.3" textLength="41.43" lengthAdjust="spacingAndGlyphs">(%)</text></g>
</svg>
</body></html>
